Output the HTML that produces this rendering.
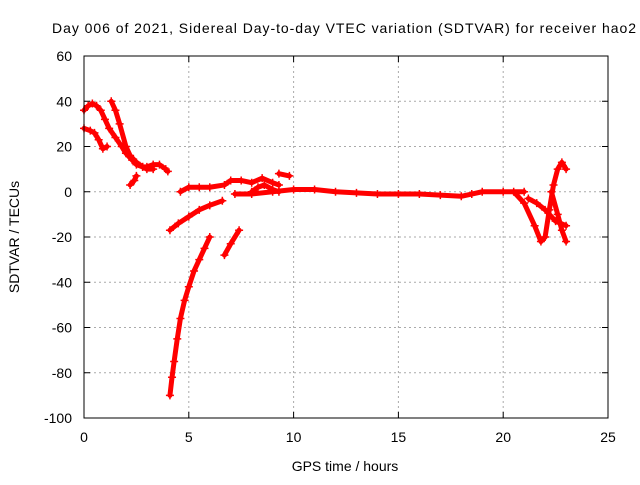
<!DOCTYPE html>
<html><head><meta charset="utf-8"><style>
body{margin:0;background:#fff;}
svg text{font-family:"Liberation Sans",sans-serif;font-size:14px;fill:#000;}
</style></head><body>
<svg id="chart" width="640" height="480">
<text x="52" y="33" textLength="584" lengthAdjust="spacing">Day 006 of 2021, Sidereal Day-to-day VTEC variation (SDTVAR) for receiver hao2</text>
<g id="grid"></g>
<g id="ticks"></g>
<g id="series"></g>
<rect x="84" y="56" width="524" height="362" fill="none" stroke="#000" stroke-width="1"/>
<text x="345" y="471" text-anchor="middle">GPS time / hours</text>
<text transform="translate(19,237) rotate(-90)" text-anchor="middle">SDTVAR / TECUs</text>
</svg>
<script>
const xTicks=[0,5,10,15,20,25];
const yTicks=[60,40,20,0,-20,-40,-60,-80,-100];
const track1=[[0,36],[0.2,38],[0.4,39],[0.6,38],[0.8,36],[1.0,32],[1.2,28],[1.5,24],[1.8,20],[2.0,17],[2.3,14],[2.5,12],[2.8,11],[3.0,11],[3.3,12],[3.6,12],[3.9,10],[4.0,9]];
const track2=[[0,28],[0.3,27],[0.5,26],[0.7,23],[0.9,19],[1.1,20]];
const track3=[[1.3,40],[1.5,36],[1.7,30],[2.0,20],[2.2,16],[2.5,13],[2.8,11],[3.0,10],[3.3,10]];
const track4=[[2.2,3],[2.4,5],[2.5,7]];
const track5=[[4.1,-90],[4.2,-82],[4.3,-75],[4.45,-65],[4.6,-56],[4.8,-48],[5.0,-42],[5.25,-35],[5.5,-30],[5.75,-25],[6.0,-20]];
const track6=[[4.1,-17],[4.5,-14],[5.0,-11],[5.5,-8],[6.0,-6],[6.6,-4]];
const track7=[[6.7,-28],[7.0,-23],[7.4,-17]];
const track8=[[4.6,0],[5.0,2],[5.5,2],[6.0,2],[6.7,3],[7.0,5],[7.5,5],[8.0,4],[8.5,6],[9.0,4],[9.3,3]];
const track9=[[7.2,-1],[8.0,-1],[9.0,0],[10,1],[11,1],[12,0],[13,-0.5],[14,-1],[15,-1],[16,-1],[17,-1.5],[18,-2],[18.5,-1],[19,0],[20,0],[21,0]];
const track10=[[8.0,0],[8.3,2],[8.6,3],[9.0,1],[9.3,0]];
const track11=[[9.3,8],[9.8,7]];
const track12=[[20.5,0],[21.0,-5],[21.5,-15],[21.8,-22],[22.0,-20],[22.2,-8],[22.4,3],[22.6,10],[22.8,13],[23.0,10]];
const track13=[[21.2,-3],[21.6,-5],[22.0,-8],[22.5,-13],[23.0,-15]];
const track14=[[22.3,0],[22.6,-10],[22.8,-17],[23.0,-22]];
const tracks=[track1,track2,track3,track4,track5,track6,track7,track8,track9,track10,track11,track12,track13,track14];
const NS="http://www.w3.org/2000/svg";
function sx(v){return 84+v*(524/25);}
function sy(v){return 56+(60-v)*(362/160);}
const grid=document.getElementById('grid'),ticks=document.getElementById('ticks'),ser=document.getElementById('series');
function mk(tag,attrs,parent){const e=document.createElementNS(NS,tag);for(const k in attrs)e.setAttribute(k,attrs[k]);parent.appendChild(e);return e;}
xTicks.forEach(t=>{const x=sx(t);
 if(t>0&&t<25){const l=mk('line',{x1:x,x2:x,y1:56,y2:418,stroke:'#aaa','stroke-dasharray':'2,3'},grid);}
 mk('line',{x1:x,x2:x,y1:418,y2:412,stroke:'#000'},ticks);mk('line',{x1:x,x2:x,y1:56,y2:62,stroke:'#000'},ticks);
 const tx=mk('text',{x:x,y:442,'text-anchor':'middle'},ticks);tx.textContent=t;
 });
yTicks.forEach(t=>{const y=sy(t);
 if(t<60&&t>-100){const l=mk('line',{x1:84,x2:608,y1:y,y2:y,stroke:'#aaa','stroke-dasharray':'2,3'},grid);}
 mk('line',{x1:84,x2:90,y1:y,y2:y,stroke:'#000'},ticks);mk('line',{x1:602,x2:608,y1:y,y2:y,stroke:'#000'},ticks);
 const tx=mk('text',{x:72,y:y+5,'text-anchor':'end'},ticks);tx.textContent=t;
 });
tracks.forEach((tr,i)=>{
 const g=mk('g',{},ser);
 
 
 mk('polyline',{points:tr.map(p=>sx(p[0])+','+sy(p[1])).join(' '),fill:'none',stroke:'#f00','stroke-width':5,'stroke-linejoin':'round','stroke-linecap':'round'},g);
 tr.forEach(p=>{const x=sx(p[0]),y=sy(p[1]);
  mk('path',{d:`M${x-4},${y}H${x+4}M${x},${y-4}V${y+4}`,stroke:'#f00','stroke-width':1.5},g);});
});
</script>
</body></html>
